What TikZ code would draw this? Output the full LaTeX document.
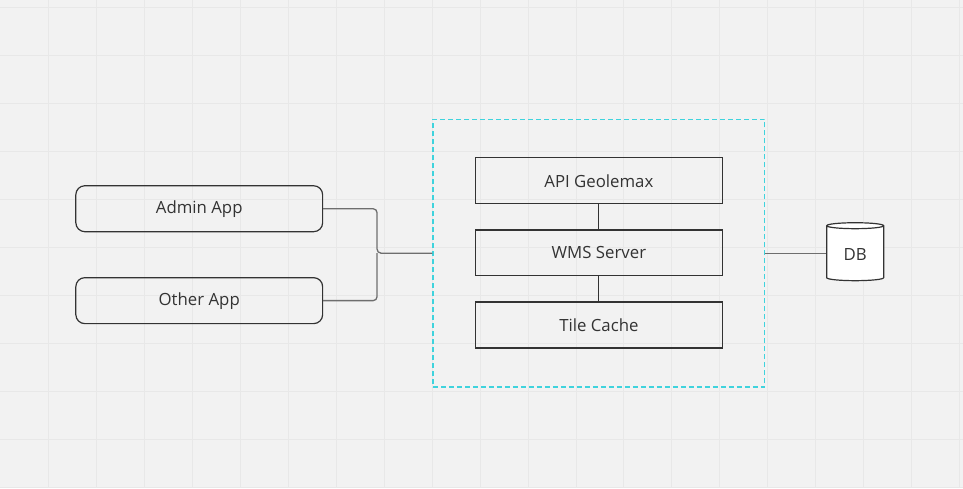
\documentclass[tikz,border=0pt]{standalone}
\usepackage{fontspec}
\setmainfont{Open Sans}
\usetikzlibrary{positioning,shapes.geometric}

\definecolor{bgcol}{HTML}{F2F2F2}
\definecolor{gridcol}{HTML}{E8E8E8}
\definecolor{inkcol}{HTML}{333333}
\definecolor{linkcol}{HTML}{6E6E6E}
\definecolor{framecol}{HTML}{3FD3DD}

\begin{document}
\begin{tikzpicture}[
	x=1pt,y=-1pt,
	appbox/.style={
		draw=inkcol,
		line width=1.2pt,
		rounded corners=9pt,
		inner sep=0pt,
		minimum width=247pt,
		minimum height=46pt,
		text=inkcol,
		font=\fontsize{16.8}{20}\selectfont},
	svcbox/.style={
		appbox,
		sharp corners},
	framebox/.style={
		draw=framecol,
		line width=1.3pt,
		dash pattern=on 5pt off 3pt,
		minimum width=332pt,
		minimum height=268pt},
	dbnode/.style={
		cylinder,
		shape border rotate=90,
		aspect=0.2,
		draw=inkcol,
		fill=white,
		line width=1.2pt,
		minimum width=57pt,
		minimum height=58pt,
		text=inkcol,
		font=\fontsize{16.8}{20}\selectfont},
	link/.style={draw=linkcol,line width=1.3pt,rounded corners=4pt},
	node distance=25pt
	]
	% background and grid
	\fill[bgcol] (0,0) rectangle (963,488);
	\foreach \gx in {48,96,...,960}
		\draw[gridcol,line width=0.8pt] (\gx,0) -- (\gx,488);
	\foreach \gy in {7,55,...,487}
		\draw[gridcol,line width=0.8pt] (0,\gy) -- (963,\gy);

	\node[appbox] (admin) at (199,208.5) {Admin App};
	\node[appbox] (other) at (199,300.5) {Other App};

	\node[framebox] (frame) at (599,253) {};
	\node[svcbox] (api) at (599,180.5) {API Geolemax};
	\node[svcbox,below=of api] (wms) {WMS Server};
	\node[svcbox,below=of wms] (tile) {Tile Cache};

	\node[dbnode] (db) at (855.5,254) {DB};

	\coordinate (jn) at (377,253);
	\draw[link] (admin.east) -| (jn) -- (frame.west);
	\draw[link] (other.east) -| (jn);

	\foreach \i/\j in {api/wms,wms/tile}
		\draw[inkcol,line width=1pt] (\i) -- (\j);
	\draw[link] (frame.east) -- (frame.east -| db.west);
\end{tikzpicture}
\end{document}
